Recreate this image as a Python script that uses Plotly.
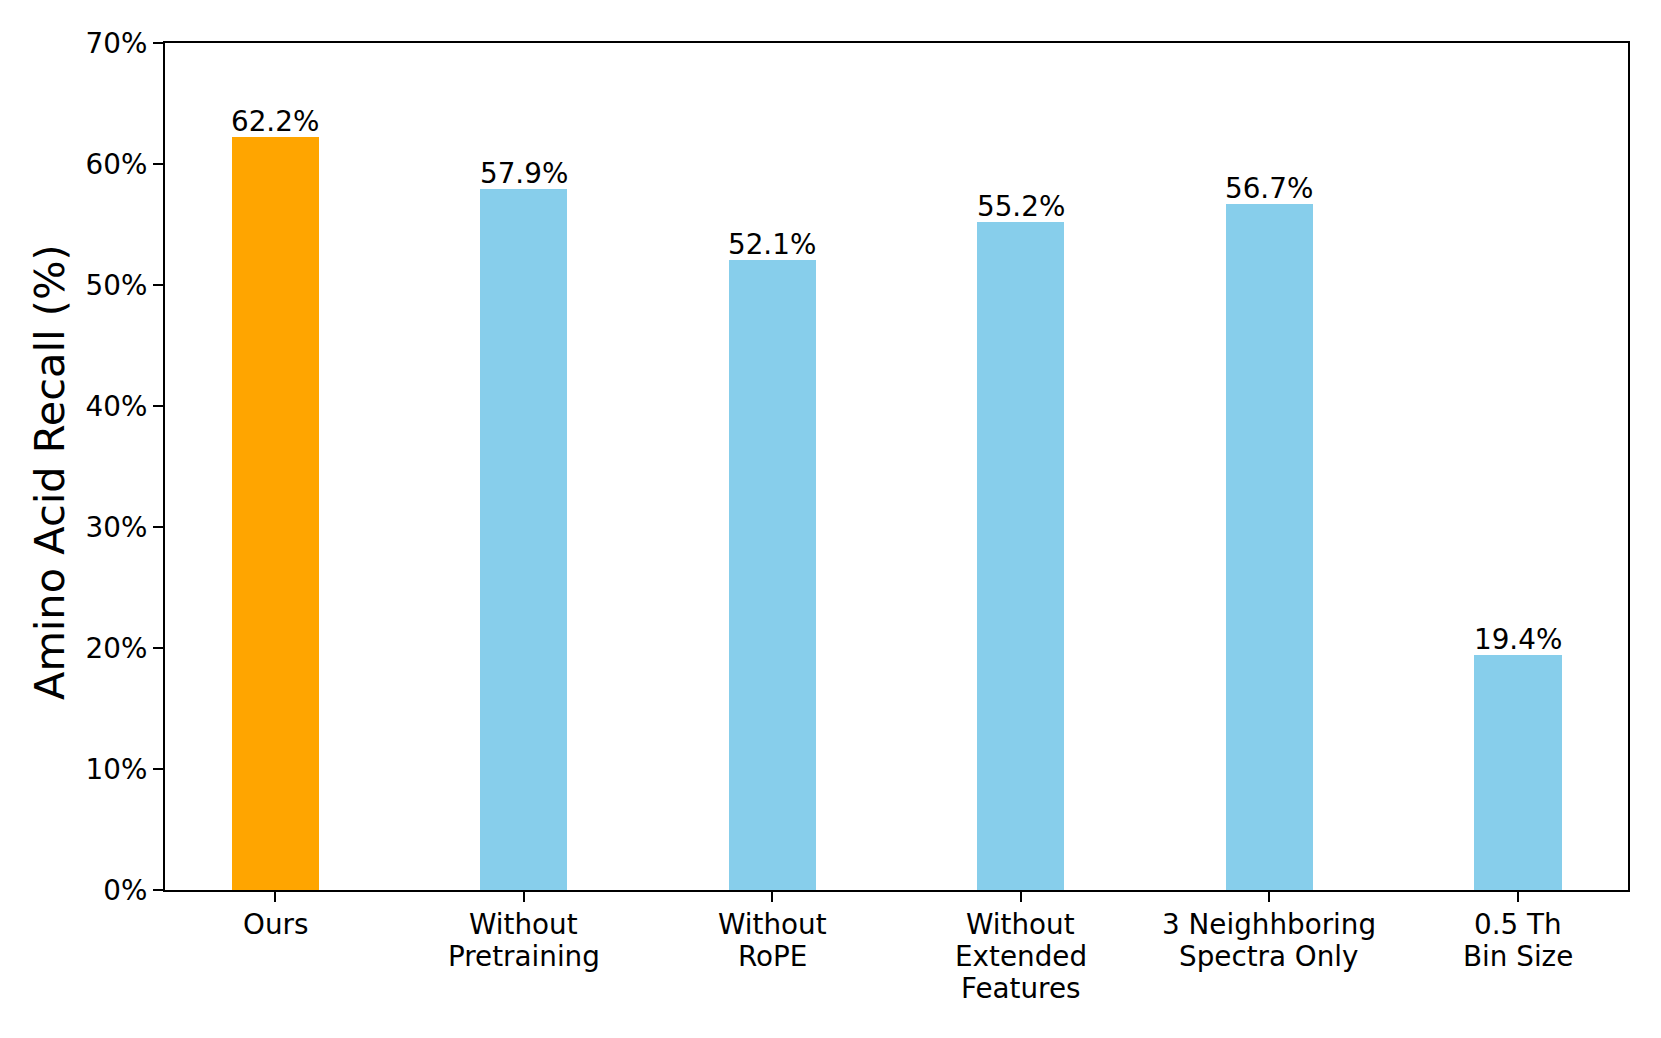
import plotly.graph_objects as go

categories = [["Ours"], ["Without", "Pretraining"], ["Without", "RoPE"],
              ["Without", "Extended", "Features"], ["3 Neighhboring", "Spectra Only"],
              ["0.5 Th", "Bin Size"]]
values = [62.2, 57.9, 52.1, 55.2, 56.7, 19.4]
colors = ["#FFA500", "#87CEEB", "#87CEEB", "#87CEEB", "#87CEEB", "#87CEEB"]
y_ticks = [0, 10, 20, 30, 40, 50, 60, 70]
y_ticklabels = [f"{t}%" for t in y_ticks]

# page body has an 8px margin; compensate
OFF = 8
W, H = 1661 - OFF, 1038 - OFF
L, R, T, B = 165 - OFF, 33, 43 - OFF, 148
FONT = "DejaVu Sans"
FS = 27.8
PW, PH = W - L - R, H - T - B

x = list(range(len(categories)))
fig = go.Figure()
fig.add_trace(go.Bar(
    x=x, y=values, width=0.35, marker=dict(color=colors, line=dict(width=0)),
    cliponaxis=False, showlegend=False, hoverinfo="y",
))

# value labels above bars
for xi, v in zip(x, values):
    fig.add_annotation(
        x=xi, y=v, xref="x", yref="y", text=f"{v:.1f}%", showarrow=False,
        xanchor="center", yanchor="bottom", yshift=-3,
        font=dict(family=FONT, size=FS, color="black"),
    )

# category tick labels (matplotlib-like line spacing)
for xi, lines in zip(x, categories):
    for k, line in enumerate(lines):
        fig.add_annotation(
            x=xi, y=0, xref="x", yref="paper", text=line, showarrow=False,
            xanchor="center", yanchor="middle", yshift=-(34.5 + k * 32.2),
            font=dict(family=FONT, size=FS, color="black"),
        )

fig.update_layout(
    width=W, height=H, margin=dict(l=L, r=R, t=T, b=B, autoexpand=False),
    plot_bgcolor="white", paper_bgcolor="white",
    font=dict(family=FONT, size=FS, color="black"),
    bargap=0,
)
fig.update_xaxes(
    range=[-0.4425, 5.4425], tickmode="array", tickvals=x, showticklabels=False,
    showline=True, linecolor="black", linewidth=2.2, mirror=True,
    ticks="outside", ticklen=10, tickwidth=2.2, tickcolor="black",
    showgrid=False, zeroline=False, automargin=False,
)
fig.update_yaxes(
    range=[0, 70], tickmode="array", tickvals=y_ticks, ticktext=y_ticklabels,
    showline=True, linecolor="black", linewidth=2.2, mirror=True,
    ticks="outside", ticklen=10, tickwidth=2.2, tickcolor="black",
    showgrid=False, zeroline=False, automargin=False,
    tickfont=dict(family=FONT, size=FS, color="black"),
)
fig.add_annotation(
    text="Amino Acid Recall (%)", textangle=-90, showarrow=False,
    xref="paper", yref="paper", x=(50 - 165) / PW, y=1 - (472 - 43) / PH,
    xanchor="center", yanchor="middle",
    font=dict(family=FONT, size=41.5, color="black"),
)
fig.write_html("out.html")
